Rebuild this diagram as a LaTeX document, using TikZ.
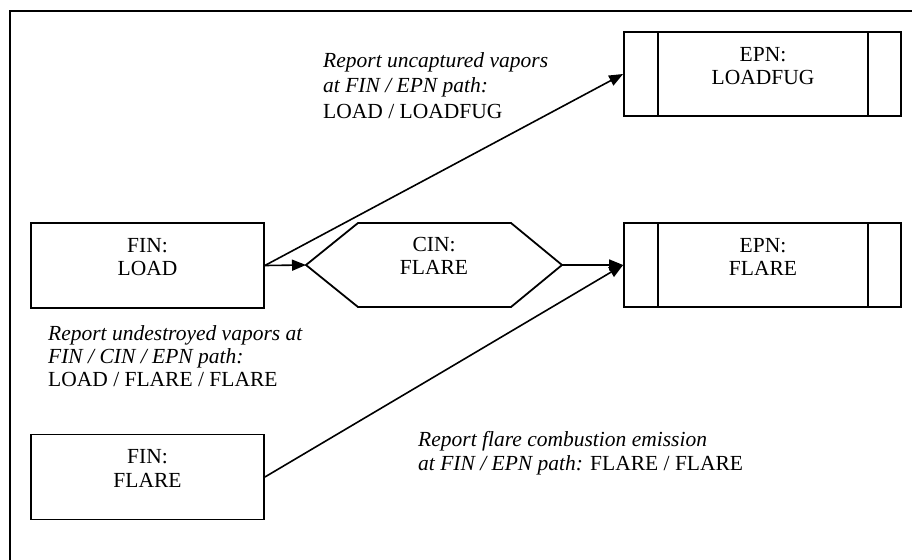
\documentclass[tikz,border=0pt]{standalone}
\usepackage{fontspec}
\setmainfont{Liberation Serif}
\usetikzlibrary{arrows.meta,calc}
\begin{document}
\begin{tikzpicture}[x=1pt,y=-1pt,
  every node/.style={font=\fontsize{21.5}{23}\selectfont},
  boxshape/.style={draw,line width=1.8pt,rectangle,inner sep=0pt},
  finbox/.style={boxshape,minimum width=233pt,minimum height=85pt},
  epnbox/.style={boxshape,minimum width=277pt,minimum height=84pt},
  txt/.style={inner sep=0pt,anchor=base},
  lbl/.style={inner sep=0pt,anchor=base west},
  arr/.style={line width=1.6pt,-{Triangle[length=14pt,width=11pt]}},
  frame/.style={line width=2.2pt}]
\useasboundingbox (0,0) rectangle (912,559);
\clip (0,0) rectangle (912,559);
\fill[white] (0,0) rectangle (912,559);
% outer frame (only top and left visible)
\coordinate (frA) at (10,575);
\coordinate (frB) at (10,11);
\coordinate (frC) at (930,11);
\draw[frame] (frA) -- (frB) -- (frC);

% boxes
\node[finbox] (fl) at (147.5,265.5) {};
\node[finbox] (ff) at (147.5,477) {};
\node[epnbox] (e1) at (762.5,74) {};
\node[epnbox] (e2) at (762.5,265) {};
\foreach \b in {e1,e2}{
  \draw[line width=1.8pt] ($(\b.north west)+(35,0)$) -- ($(\b.south west)+(35,0)$);
  \draw[line width=1.8pt] ($(\b.north east)+(-34,0)$) -- ($(\b.south east)+(-34,0)$);
}
% hexagon
\coordinate (cinW) at (306,265);
\coordinate (cinE) at (562,265);
\coordinate (cinNW) at (358,223);
\coordinate (cinNE) at (511,223);
\coordinate (cinSE) at (511,307);
\coordinate (cinSW) at (358,307);
\draw[line width=1.8pt,line join=miter] (cinW) -- (cinNW) -- (cinNE) -- (cinE) -- (cinSE) -- (cinSW) -- cycle;

% box texts
\node[txt] (flt1) at (147.5,252) {FIN:};
\node[txt] (flt2) at (147.5,275) {LOAD};
\node[txt] (fft1) at (147.5,463) {FIN:};
\node[txt] (fft2) at (147.5,487) {FLARE};
\node[txt] (cint1) at (434,251) {CIN:};
\node[txt] (cint2) at (434,274) {FLARE};
\node[txt] (e1t1) at (763,62) {EPN:};
\node[txt] (e1t2) at (763,85) {LOADFUG};
\node[txt] (e2t1) at (763,252) {EPN:};
\node[txt] (e2t2) at (763,275) {FLARE};

% connectors
\draw[arr] (fl.east) -- (cinW);
\draw[arr] (fl.east) -- (e1.west);
\draw[arr] (cinE) -- (e2.west);
\draw[arr] (ff.east) -- (e2.west);

% labels
\node[lbl] (la1) at (323,68) {\itshape Report uncaptured vapors};
\node[lbl] (la2) at (323,93) {\itshape at FIN / EPN path:};
\node[lbl] (la3) at (323,118) {LOAD / LOADFUG};
\node[lbl] (lb1) at (48,340) {\itshape Report undestroyed vapors at};
\node[lbl] (lb2) at (48,363) {\itshape FIN / CIN / EPN path:};
\node[lbl] (lb3) at (48,386) {LOAD / FLARE / FLARE};
\node[lbl] (lc1) at (418,446) {\itshape Report flare combustion emission};
\node[lbl] (lc2) at (418,470) {{\itshape at FIN / EPN path:} FLARE / FLARE};
\end{tikzpicture}
\end{document}
